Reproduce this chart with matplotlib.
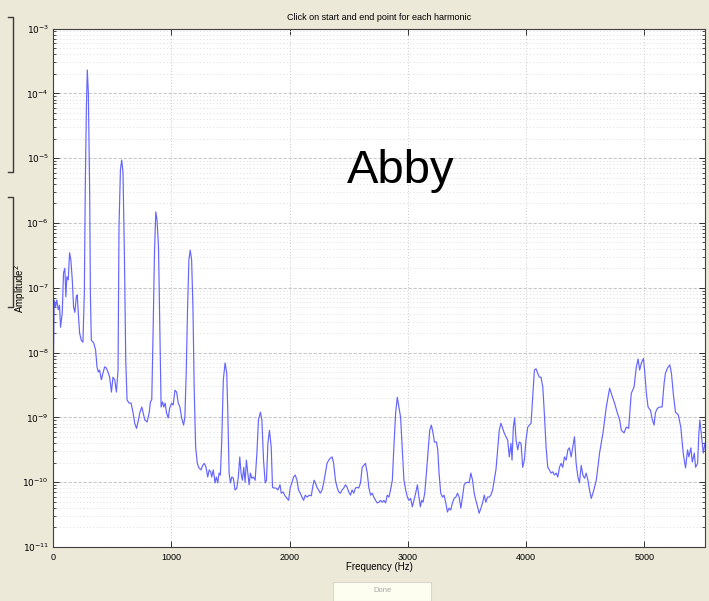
import numpy as np
import matplotlib
matplotlib.use("Agg")
from matplotlib import pyplot as plt
from matplotlib.lines import Line2D
from matplotlib.patches import Rectangle
from matplotlib.ticker import LogLocator, NullFormatter

# spectrum: frequency (Hz) and log10(amplitude^2)
freq_hz = [
    0, 10, 21, 32, 44, 55, 64, 78, 89, 100,
    109, 117, 129, 140, 151, 163, 174, 185, 197, 205,
    214, 225, 239, 253, 265, 273, 282, 290, 299, 310,
    316, 324, 344, 360, 372, 383, 394, 409, 422, 437,
    451, 465, 479, 494, 507, 522, 536, 550, 558, 570,
    581, 592, 604, 615, 626, 643, 660, 677, 691, 706,
    719, 734, 751, 762, 776, 796, 813, 824, 835, 846,
    858, 869, 880, 892, 903, 914, 926, 937, 948, 960,
    974, 986, 1003, 1016, 1031, 1045, 1059, 1073, 1087, 1104,
    1115, 1126, 1138, 1149, 1160, 1172, 1183, 1194, 1206, 1220,
    1234, 1251, 1266, 1279, 1294, 1308, 1321, 1333, 1342, 1355,
    1370, 1381, 1393, 1404, 1415, 1427, 1440, 1455, 1469, 1478,
    1489, 1500, 1512, 1525, 1539, 1554, 1567, 1579, 1590, 1601,
    1613, 1624, 1635, 1647, 1658, 1669, 1681, 1695, 1709, 1724,
    1737, 1754, 1766, 1780, 1794, 1805, 1817, 1830, 1845, 1856,
    1868, 1885, 1902, 1919, 1930, 1947, 1958, 1978, 1992, 2006,
    2020, 2034, 2048, 2063, 2076, 2091, 2105, 2119, 2133, 2148,
    2167, 2184, 2195, 2207, 2218, 2232, 2246, 2260, 2275, 2288,
    2303, 2317, 2331, 2345, 2360, 2373, 2388, 2402, 2416, 2430,
    2444, 2458, 2473, 2487, 2500, 2515, 2529, 2543, 2557, 2572,
    2585, 2600, 2614, 2628, 2642, 2657, 2670, 2685, 2699, 2713,
    2727, 2741, 2755, 2769, 2784, 2797, 2812, 2826, 2840, 2854,
    2869, 2882, 2897, 2911, 2925, 2939, 2953, 2967, 2982, 2996,
    3009, 3024, 3038, 3052, 3066, 3081, 3094, 3106, 3117, 3128,
    3143, 3157, 3174, 3185, 3199, 3213, 3225, 3242, 3253, 3264,
    3278, 3293, 3306, 3321, 3335, 3349, 3363, 3377, 3391, 3406,
    3420, 3434, 3448, 3462, 3476, 3490, 3505, 3518, 3533, 3547,
    3561, 3575, 3590, 3603, 3618, 3632, 3646, 3660, 3674, 3688,
    3702, 3717, 3730, 3745, 3759, 3773, 3787, 3802, 3815, 3830,
    3844, 3858, 3872, 3881, 3892, 3903, 3915, 3929, 3942, 3957,
    3971, 3985, 3999, 4014, 4027, 4042, 4056, 4070, 4084, 4098,
    4112, 4126, 4141, 4154, 4169, 4183, 4197, 4211, 4226, 4239,
    4254, 4268, 4282, 4296, 4310, 4324, 4339, 4353, 4366, 4381,
    4395, 4409, 4423, 4438, 4451, 4466, 4480, 4494, 4508, 4523,
    4536, 4551, 4573, 4593, 4607, 4621, 4650, 4678, 4706, 4720,
    4748, 4771, 4791, 4805, 4828, 4847, 4867, 4889, 4913, 4932,
    4947, 4960, 4975, 4992, 5003, 5017, 5031, 5051, 5068, 5082,
    5093, 5110, 5130, 5150, 5167, 5178, 5195, 5215, 5229, 5244,
    5263, 5286, 5308, 5328, 5348, 5365, 5376, 5393, 5405, 5422,
    5433, 5450, 5461, 5469, 5484, 5498, 5512,
]
log_amp = [
    -8.73, -7.19, -7.30, -7.19, -7.34, -7.27, -7.61, -7.39, -6.77, -6.70,
    -7.14, -6.83, -6.88, -6.46, -6.57, -6.88, -7.30, -7.38, -7.14, -7.11,
    -7.39, -7.70, -7.81, -7.84, -7.08, -5.45, -4.26, -3.64, -4.00, -5.54,
    -7.08, -7.81, -7.85, -7.96, -8.22, -8.30, -8.27, -8.42, -8.32, -8.22,
    -8.24, -8.30, -8.38, -8.61, -8.38, -8.42, -8.61, -8.27, -6.06, -5.18,
    -5.03, -5.23, -6.53, -8.12, -8.73, -8.78, -8.78, -8.93, -9.09, -9.17,
    -9.07, -8.93, -8.84, -8.93, -9.04, -9.07, -8.93, -8.76, -8.73, -7.70,
    -6.46, -5.83, -5.96, -6.37, -7.61, -8.84, -8.76, -8.84, -8.78, -8.93,
    -9.01, -8.86, -8.78, -8.81, -8.58, -8.61, -8.78, -8.84, -9.00, -9.12,
    -9.00, -8.32, -7.30, -6.57, -6.42, -6.57, -7.30, -8.58, -9.46, -9.71,
    -9.78, -9.81, -9.74, -9.71, -9.77, -9.92, -9.81, -9.84, -9.92, -9.81,
    -10.01, -9.92, -10.01, -9.86, -9.89, -9.35, -8.42, -8.16, -8.32, -8.93,
    -9.86, -10.01, -9.92, -9.94, -10.12, -10.09, -9.92, -9.61, -9.86, -9.97,
    -9.77, -10.00, -9.66, -9.86, -10.04, -9.86, -9.94, -9.92, -9.97, -9.55,
    -9.04, -8.92, -9.04, -9.66, -10.01, -9.97, -9.40, -9.20, -9.46, -10.08,
    -10.09, -10.09, -10.12, -10.04, -10.17, -10.15, -10.20, -10.25, -10.28, -10.08,
    -10.01, -9.92, -9.89, -9.97, -10.12, -10.17, -10.23, -10.28, -10.20, -10.23,
    -10.20, -10.21, -10.08, -9.97, -10.01, -10.08, -10.12, -10.17, -10.12, -10.01,
    -9.86, -9.71, -9.66, -9.63, -9.61, -9.71, -9.97, -10.08, -10.15, -10.17,
    -10.12, -10.09, -10.04, -10.08, -10.15, -10.20, -10.12, -10.17, -10.09, -10.08,
    -10.09, -10.01, -9.77, -9.74, -9.71, -9.86, -10.08, -10.20, -10.17, -10.23,
    -10.28, -10.32, -10.31, -10.28, -10.31, -10.28, -10.32, -10.20, -10.23, -10.12,
    -9.97, -9.46, -8.93, -8.69, -8.84, -9.00, -9.50, -9.97, -10.12, -10.23,
    -10.28, -10.25, -10.38, -10.28, -10.17, -10.04, -10.23, -10.38, -10.28, -10.31,
    -10.17, -9.86, -9.46, -9.20, -9.12, -9.24, -9.38, -9.38, -9.50, -9.86,
    -10.17, -10.23, -10.20, -10.32, -10.46, -10.40, -10.43, -10.32, -10.25, -10.23,
    -10.17, -10.23, -10.40, -10.23, -10.04, -10.01, -10.00, -10.01, -9.86, -9.97,
    -10.17, -10.28, -10.38, -10.48, -10.40, -10.32, -10.20, -10.31, -10.23, -10.23,
    -10.20, -10.12, -9.97, -9.81, -9.50, -9.20, -9.09, -9.17, -9.24, -9.30,
    -9.35, -9.61, -9.40, -9.66, -9.15, -9.01, -9.35, -9.50, -9.38, -9.40,
    -9.77, -9.66, -9.35, -9.15, -9.12, -9.09, -8.69, -8.27, -8.25, -8.32,
    -8.38, -8.38, -8.53, -8.93, -9.46, -9.77, -9.81, -9.86, -9.84, -9.89,
    -9.86, -9.92, -9.77, -9.71, -9.77, -9.61, -9.66, -9.50, -9.47, -9.61,
    -9.46, -9.30, -9.71, -9.92, -10.01, -9.74, -9.89, -9.94, -9.86, -9.97,
    -10.12, -10.25, -10.12, -9.97, -9.77, -9.55, -9.24, -8.84, -8.55, -8.63,
    -8.78, -8.93, -9.04, -9.20, -9.24, -9.15, -9.17, -8.63, -8.53, -8.22,
    -8.10, -8.27, -8.16, -8.09, -8.30, -8.63, -8.84, -8.89, -9.04, -9.12,
    -8.93, -8.86, -8.84, -8.84, -8.47, -8.32, -8.24, -8.19, -8.32, -8.63,
    -8.92, -8.96, -9.15, -9.55, -9.78, -9.50, -9.61, -9.47, -9.69, -9.55,
    -9.77, -9.71, -9.24, -9.04, -9.30, -9.55, -9.40,
]
x_ticks = [0, 1000, 2000, 3000, 4000, 5000]
y_decades = [-11, -10, -9, -8, -7, -6, -5, -4, -3]

plt.rcParams["font.family"] = ["Liberation Sans", "DejaVu Sans"]

W, H = 709, 601
fig = plt.figure(figsize=(W / 100, H / 100), dpi=100, facecolor="#ece9d8")
ax = fig.add_axes([53 / W, 1 - 547 / H, 652 / W, 518.5 / H])
ax.set_facecolor("white")

amp = 10.0 ** np.array(log_amp)
ax.semilogy(freq_hz, amp, color="#6464ff", lw=0.85)

ax.set_xlim(0, 5512.5)
ax.set_ylim(1e-11, 1e-3)
ax.set_xticks(x_ticks)
ax.set_xticklabels([str(t) for t in x_ticks])
ax.set_yticks([10.0 ** e for e in y_decades])
ax.set_yticklabels(["$10^{%d}$" % e for e in y_decades])
ax.yaxis.set_minor_locator(LogLocator(base=10, subs=np.arange(2, 10), numticks=20))
ax.yaxis.set_minor_formatter(NullFormatter())
ax.set_ylim(1e-11, 1e-3)

ax.tick_params(which="both", direction="in", top=True, right=True,
               labelsize=6.5, color="#333333", labelcolor="black", pad=3)
ax.tick_params(which="major", length=4, width=0.7)
ax.tick_params(which="minor", length=2, width=0.6)
ax.tick_params(axis="x", pad=4)

# matlab style grid
ax.grid(True, which="major", axis="y", color="#c8c8c8", ls=(0, (3, 1.5)), lw=0.8)
ax.grid(True, which="minor", axis="y", color="#d4d4d4", ls=(0, (1, 3)), lw=0.6)
ax.grid(True, which="major", axis="x", color="#cacaca", ls=(0, (1, 2)), lw=0.7)
for s in ax.spines.values():
    s.set_color("#404040")
    s.set_linewidth(0.8)

fig.text(379 / W, 1 - 17 / H, "Click on start and end point for each harmonic",
         ha="center", va="center", fontsize=6.5)
fig.text(379 / W, 1 - 567 / H, "Frequency (Hz)", ha="center", va="center", fontsize=7)
fig.text(20 / W, 1 - 288 / H, "Amplitude$^2$", ha="center", va="center",
         rotation=90, fontsize=7)

fig.text(401 / W, 1 - 183 / H, "Abby", ha="center", va="baseline", fontsize=34)

# cut-off panel edges at the left border
for top, bot in [(17, 172), (197, 307)]:
    fig.add_artist(Line2D([8 / W, 13 / W, 13 / W, 8 / W],
                          [1 - top / H, 1 - top / H, 1 - bot / H, 1 - bot / H],
                          transform=fig.transFigure, color="#3a3a3a", lw=1))

# greyed out "Done" button
fig.add_artist(Rectangle((333 / W, 0), 98 / W, 19 / H, transform=fig.transFigure,
                         facecolor="#fdfdf0", edgecolor="#d8d8c8", lw=0.8))
fig.text(382 / W, 1 - 591 / H, "Done", ha="center", va="center",
         fontsize=5.5, color="#a8a8a8")

fig.savefig("out.png", dpi=100, facecolor=fig.get_facecolor())
